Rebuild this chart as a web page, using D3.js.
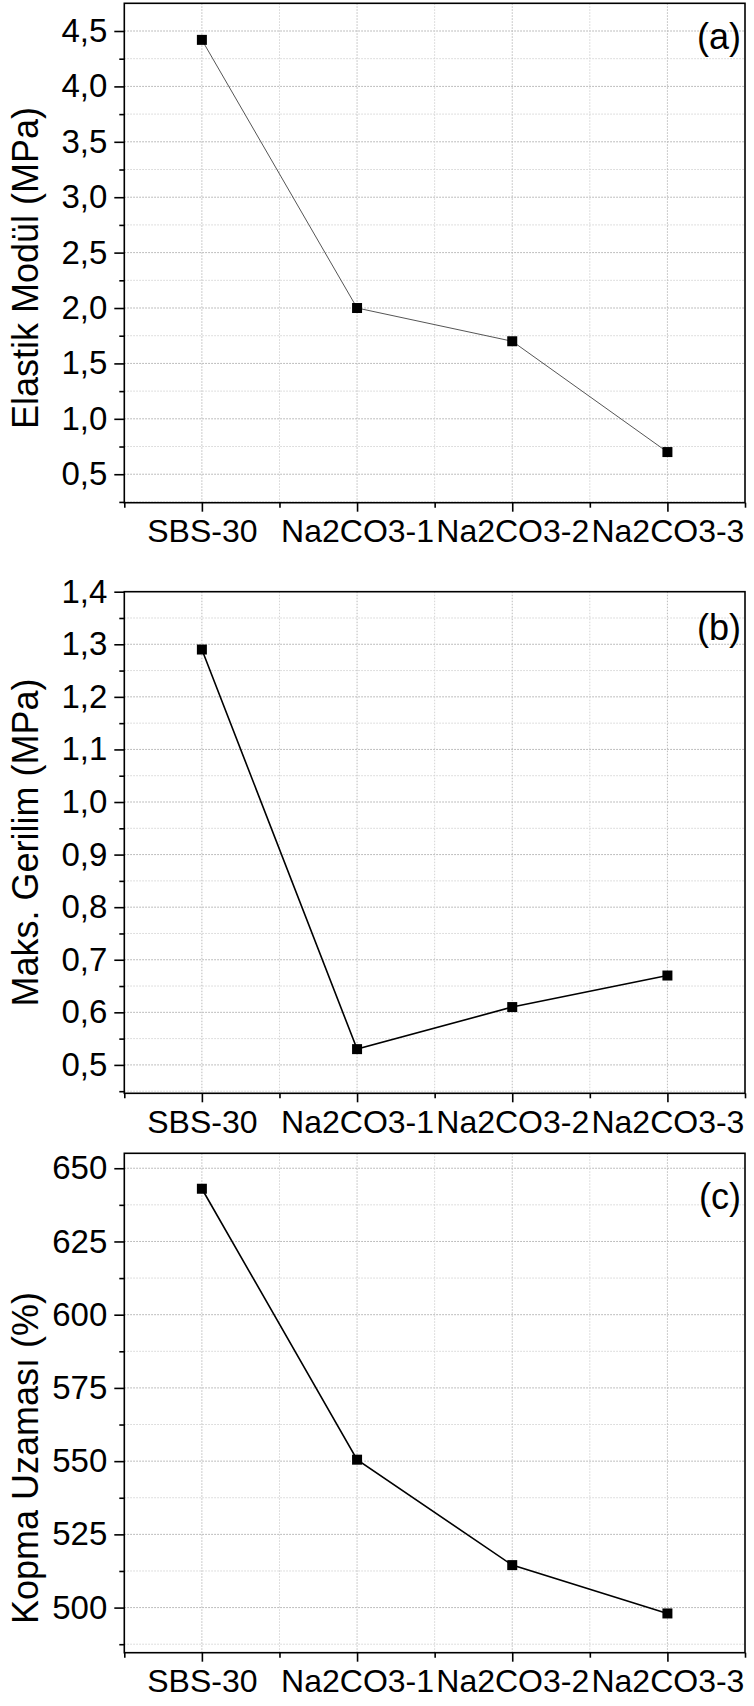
<!DOCTYPE html>
<html>
<head>
<meta charset="utf-8">
<style>
  body { margin: 0; background: #fff; }
  text { font-family: "Liberation Sans", Arial, sans-serif; fill: #000; }
</style>
</head>
<body>
<script src="https://d3js.org/d3.v7.min.js"></script>
<script>
// data
var categories = ["SBS-30", "Na2CO3-1", "Na2CO3-2", "Na2CO3-3"];
var elastikModul = [4.42, 2.0, 1.7, 0.7];
var maksGerilim = [1.29, 0.53, 0.61, 0.67];
var kopmaUzamasi = [643, 550.5, 514.5, 498];

var ticksA = [0.5, 1.0, 1.5, 2.0, 2.5, 3.0, 3.5, 4.0, 4.5];
var ticksB = [0.5, 0.6, 0.7, 0.8, 0.9, 1.0, 1.1, 1.2, 1.3, 1.4];
var ticksC = [500, 525, 550, 575, 600, 625, 650];

var W = 754, H = 1706;
var left = 124.3, right = 745;

var svg = d3.select("body").append("svg")
    .attr("width", W)
    .attr("height", H);

svg.append("rect").attr("width", W).attr("height", H).attr("fill", "#fff");

var x = d3.scaleLinear().domain([0.5, 4.5]).range([left, right]);

function commaFmt(dec) {
    var f = d3.format("." + dec + "f");
    return function(v) { return f(v).replace(".", ","); };
}

function drawPanel(p) {
    var y = d3.scaleLinear().domain(p.domain).range([p.bottom, p.top]);
    var g = svg.append("g");

    // minor y values halfway between major ticks
    var minor = [];
    for (var i = 0; i < p.ticks.length - 1; i++) minor.push((p.ticks[i] + p.ticks[i + 1]) / 2);
    if (p.ticks[0] - p.step / 2 > p.domain[0]) minor.push(p.ticks[0] - p.step / 2);
    var last = p.ticks[p.ticks.length - 1] + p.step / 2;
    if (last < p.domain[1]) minor.push(last);

    // grid
    g.selectAll(".hmin").data(minor).enter().append("line")
        .attr("x1", left).attr("x2", right)
        .attr("y1", d => y(d)).attr("y2", d => y(d))
        .attr("stroke", "#d4d4d4").attr("stroke-width", 1).attr("stroke-dasharray", "1.5,1.5");
    g.selectAll(".hmaj").data(p.ticks.filter(d => y(d) > p.top + 1)).enter().append("line")
        .attr("x1", left).attr("x2", right)
        .attr("y1", d => y(d)).attr("y2", d => y(d))
        .attr("stroke", "#aaa").attr("stroke-width", 1).attr("stroke-dasharray", "1.5,1.5");
    g.selectAll(".vgrid").data([1, 1.5, 2, 2.5, 3, 3.5, 4]).enter().append("line")
        .attr("x1", d => x(d)).attr("x2", d => x(d))
        .attr("y1", p.top).attr("y2", p.bottom)
        .attr("stroke", d => d % 1 === 0 ? "#bbb" : "#d4d4d4")
        .attr("stroke-width", 1).attr("stroke-dasharray", "1.5,1.5");

    // frame
    g.append("rect")
        .attr("x", left).attr("y", p.top)
        .attr("width", right - left).attr("height", p.bottom - p.top)
        .attr("fill", "none").attr("stroke", "#000").attr("stroke-width", 1.6);

    // y axis
    var yAxis = d3.axisLeft(y).tickValues(p.ticks).tickSize(10).tickPadding(7)
        .tickFormat(p.fmt);
    var ya = g.append("g").attr("transform", "translate(" + left + ",0)").call(yAxis);
    ya.select(".domain").remove();
    ya.selectAll("line").attr("stroke-width", 1.6);
    ya.selectAll("text").style("font-size", "33px").style("font-family", "Liberation Sans, Arial, sans-serif");

    var yMinor = d3.axisLeft(y).tickValues(minor).tickSize(5).tickFormat("");
    var ym = g.append("g").attr("transform", "translate(" + left + ",0)").call(yMinor);
    ym.select(".domain").remove();
    ym.selectAll("line").attr("stroke-width", 1.6);

    // x axis
    var xAxis = d3.axisBottom(x).tickValues([1, 2, 3, 4]).tickSize(9).tickPadding(8)
        .tickFormat((d, i) => categories[i]);
    var xa = g.append("g").attr("transform", "translate(0," + p.bottom + ")").call(xAxis);
    xa.select(".domain").remove();
    xa.selectAll("line").attr("stroke-width", 1.6);
    xa.selectAll("text").style("font-size", "32px").style("font-family", "Liberation Sans, Arial, sans-serif");

    var xMinor = d3.axisBottom(x).tickValues([0.5, 1.5, 2.5, 3.5, 4.5]).tickSize(5).tickFormat("");
    var xm = g.append("g").attr("transform", "translate(0," + p.bottom + ")").call(xMinor);
    xm.select(".domain").remove();
    xm.selectAll("line").attr("stroke-width", 1.6);

    // y title
    g.append("text")
        .attr("transform", "translate(38," + ((p.top + p.bottom) / 2 + p.titleShift) + ") rotate(-90)")
        .attr("text-anchor", "middle")
        .style("font-size", "36px")
        .text(p.title);

    // panel label
    g.append("text")
        .attr("x", 741).attr("y", p.top + p.labelDy)
        .attr("text-anchor", "end")
        .style("font-size", "36px")
        .text(p.label);

    // line + markers
    var line = d3.line().x((d, i) => x(i + 1)).y(d => y(d));
    g.append("path")
        .attr("d", line(p.values))
        .attr("fill", "none")
        .attr("stroke", p.lineColor)
        .attr("stroke-width", p.lineWidth);
    g.selectAll(".pt").data(p.values).enter().append("rect")
        .attr("x", (d, i) => x(i + 1) - 5)
        .attr("y", d => y(d) - 5)
        .attr("width", 10).attr("height", 10)
        .attr("fill", "#000");
}

drawPanel({
    top: 3.3, bottom: 502.7, domain: [0.243, 4.75], ticks: ticksA, step: 0.5,
    fmt: commaFmt(1), values: elastikModul, title: "Elastik Modül (MPa)", label: "(a)",
    lineColor: "#555", lineWidth: 1, titleShift: 15, labelDy: 46
});
drawPanel({
    top: 591.7, bottom: 1093.3, domain: [0.446, 1.4], ticks: ticksB, step: 0.1,
    fmt: commaFmt(1), values: maksGerilim, title: "Maks. Gerilim (MPa)", label: "(b)",
    lineColor: "#000", lineWidth: 1.6, titleShift: 0, labelDy: 48
});
drawPanel({
    top: 1153.3, bottom: 1652.7, domain: [484.6, 655.1], ticks: ticksC, step: 25,
    fmt: d3.format("d"), values: kopmaUzamasi, title: "Kopma Uzaması (%)", label: "(c)",
    lineColor: "#000", lineWidth: 1.6, titleShift: 55, labelDy: 56
});
</script>
</body>
</html>
